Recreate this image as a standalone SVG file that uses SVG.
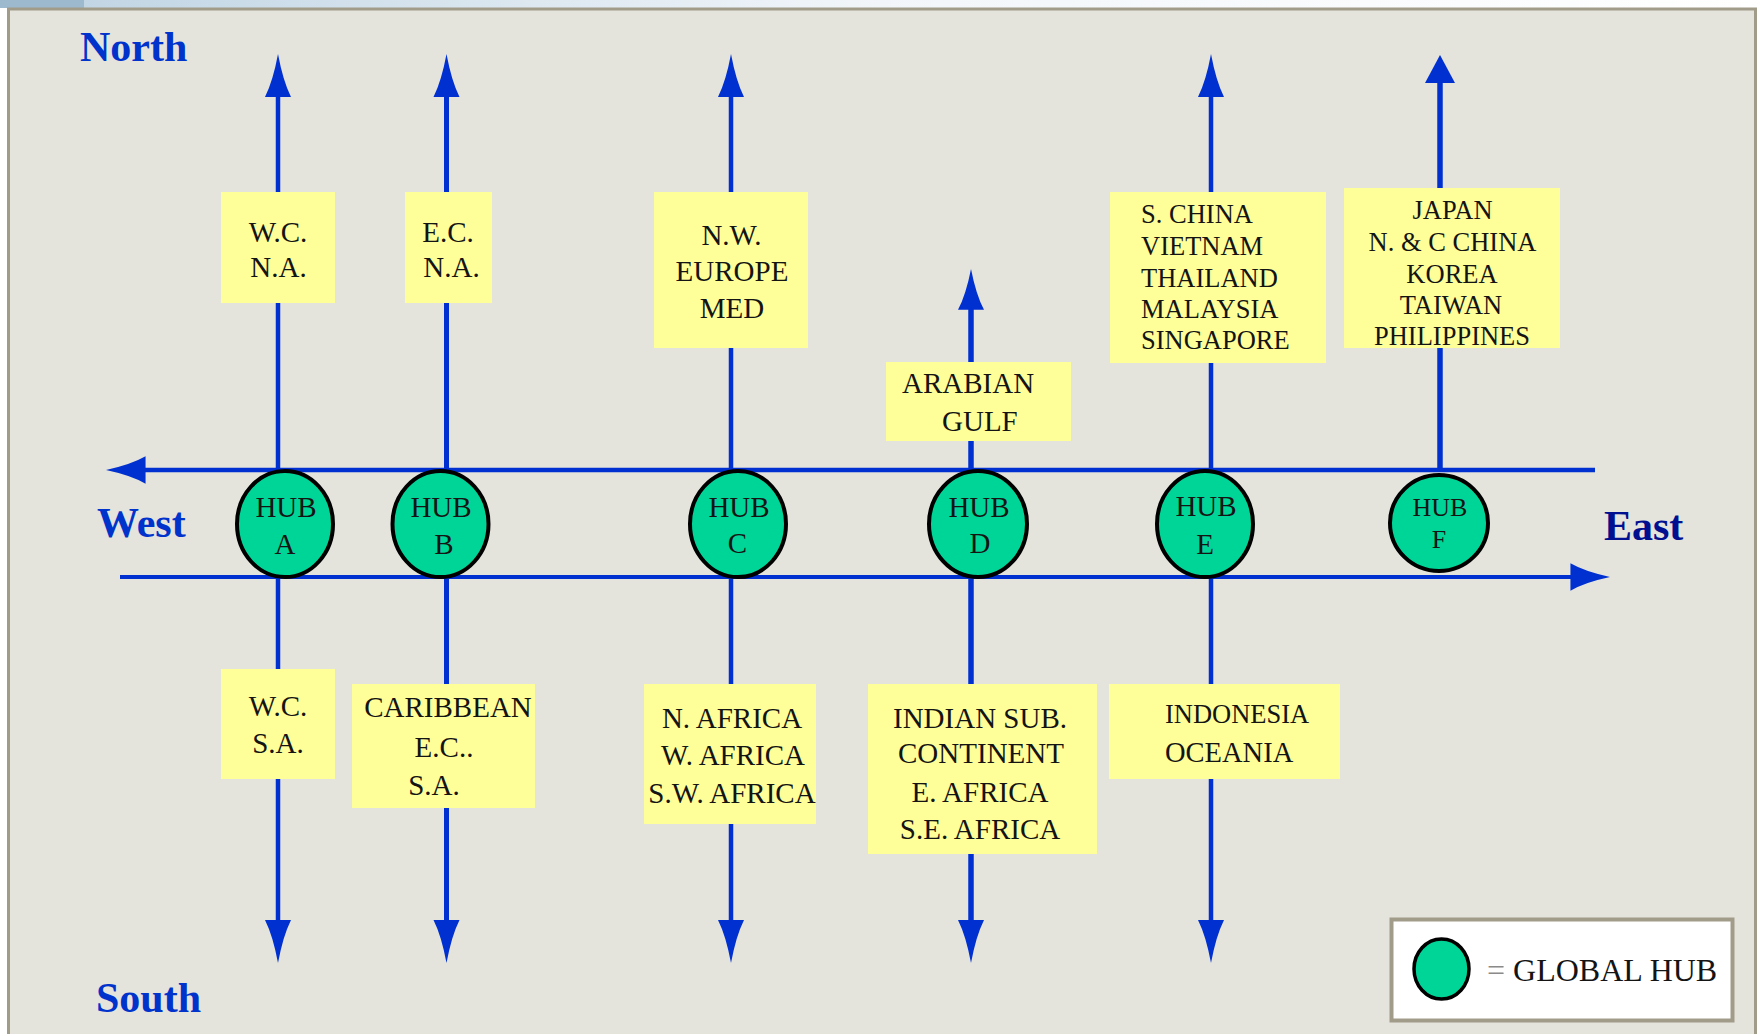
<svg xmlns="http://www.w3.org/2000/svg" xmlns:xlink="http://www.w3.org/1999/xlink" width="1758" height="1034" viewBox="0 0 1758 1034">
<style>
.ln{stroke:#0030D0;stroke-width:4.5;fill:none}
.lnb{stroke:#0030D0;stroke-width:5.5;fill:none}
.ah{fill:#0030D0}
.box{fill:#FFFF99}
.hub{fill:#00D598;stroke:#000;stroke-width:4}
.t{font-family:"Liberation Serif","Times New Roman",serif;fill:#141414}
.t29{font-size:29px}
.t26{font-size:26.5px}
.c{text-anchor:middle}
.dir{font-family:"Liberation Serif","Times New Roman",serif;font-weight:bold;font-size:42px;fill:#0033CC}
</style>
<defs>
<linearGradient id="topg" x1="0" y1="0" x2="1" y2="0">
<stop offset="0" stop-color="#BCD2E2"/>
<stop offset="0.5" stop-color="#F2F6FA"/>
<stop offset="1" stop-color="#FFFFFF"/>
</linearGradient>
<path id="ah" d="M0,0 Q5,27 13,43 L-13,43 Q-5,27 0,0 Z"/>
</defs>
<rect x="0" y="0" width="1758" height="1034" fill="#FFFFFF"/>
<rect x="0" y="0" width="1758" height="8" fill="url(#topg)"/>
<rect x="0" y="0" width="84" height="8" fill="#9DB9CE"/>
<rect x="8.5" y="9" width="1747" height="1040" fill="#E4E3DC" stroke="#A19C8A" stroke-width="3"/>

<g id="connectors">
<line class="ln" x1="145" y1="470" x2="1595" y2="470"/>
<line class="ln" x1="120" y1="577" x2="1572" y2="577" style="stroke-width:4"/>
<use href="#ah" class="ah" transform="translate(106,470) rotate(-90) scale(1.05,0.92)"/>
<use href="#ah" class="ah" transform="translate(1610,577) rotate(90) scale(1.05,0.92)"/>
<line class="ln" x1="278" y1="92" x2="278" y2="924"/>
<use href="#ah" class="ah" transform="translate(278,54)"/>
<use href="#ah" class="ah" transform="translate(278,963) rotate(180)"/>
<line class="ln" x1="446.5" y1="92" x2="446.5" y2="924" style="stroke-width:5"/>
<use href="#ah" class="ah" transform="translate(446.5,54)"/>
<use href="#ah" class="ah" transform="translate(446.5,963) rotate(180)"/>
<line class="ln" x1="731" y1="92" x2="731" y2="924"/>
<use href="#ah" class="ah" transform="translate(731,54)"/>
<use href="#ah" class="ah" transform="translate(731,963) rotate(180)"/>
<line class="lnb" x1="971" y1="305" x2="971" y2="924"/>
<use href="#ah" class="ah" transform="translate(971,269) scale(1,0.95)"/>
<use href="#ah" class="ah" transform="translate(971,963) rotate(180)"/>
<line class="ln" x1="1211" y1="92" x2="1211" y2="924"/>
<use href="#ah" class="ah" transform="translate(1211,54)"/>
<use href="#ah" class="ah" transform="translate(1211,963) rotate(180)"/>
<line class="lnb" x1="1440" y1="80" x2="1440" y2="470"/>
<path class="ah" d="M1440,55 L1455,83 L1425,83 Z"/>
</g>

<g id="box-wcna">
<rect class="box" x="221" y="192" width="114" height="111"/>
<text class="t t29 c" x="278" y="242">W.C.</text>
<text class="t t29 c" x="278.5" y="277">N.A.</text>
</g>
<g id="box-ecna">
<rect class="box" x="405" y="192" width="87" height="111"/>
<text class="t t29 c" x="448" y="242">E.C.</text>
<text class="t t29 c" x="451.5" y="277">N.A.</text>
</g>
<g id="box-nweurope">
<rect class="box" x="654" y="192" width="154" height="156"/>
<text class="t t29 c" x="731.5" y="245">N.W.</text>
<text class="t t29 c" x="732" y="281">EUROPE</text>
<text class="t t29 c" x="732" y="318">MED</text>
</g>
<g id="box-arabian">
<rect class="box" x="886" y="362" width="185" height="79"/>
<text class="t t29" x="902" y="393">ARABIAN</text>
<text class="t t29" x="942" y="431">GULF</text>
</g>
<g id="box-schina">
<rect class="box" x="1110" y="192" width="216" height="171"/>
<text class="t t26" x="1141" y="223">S. CHINA</text>
<text class="t t26" x="1141" y="255">VIETNAM</text>
<text class="t t26" x="1141" y="287">THAILAND</text>
<text class="t t26" x="1141" y="318">MALAYSIA</text>
<text class="t t26" x="1141" y="349">SINGAPORE</text>
</g>
<g id="box-japan">
<rect class="box" x="1344" y="188" width="216" height="160"/>
<text class="t t26 c" x="1452.5" y="219">JAPAN</text>
<text class="t t26 c" x="1452.5" y="251">N. &amp; C CHINA</text>
<text class="t t26 c" x="1452" y="283">KOREA</text>
<text class="t t26 c" x="1451" y="314">TAIWAN</text>
<text class="t t26 c" x="1452" y="345">PHILIPPINES</text>
</g>

<g id="box-wcsa">
<rect class="box" x="221" y="669" width="114" height="110"/>
<text class="t t29 c" x="278" y="715.5">W.C.</text>
<text class="t t29 c" x="278" y="753">S.A.</text>
</g>
<g id="box-caribbean">
<rect class="box" x="352" y="684" width="183" height="124"/>
<text class="t t29 c" x="448" y="717">CARIBBEAN</text>
<text class="t t29 c" x="444" y="757">E.C..</text>
<text class="t t29 c" x="434" y="795">S.A.</text>
</g>
<g id="box-africa">
<rect class="box" x="644" y="684" width="172" height="140"/>
<text class="t t29 c" x="732" y="728">N. AFRICA</text>
<text class="t t29 c" x="733" y="765">W. AFRICA</text>
<text class="t t29 c" x="732" y="803">S.W. AFRICA</text>
</g>
<g id="box-indian">
<rect class="box" x="868" y="684" width="229" height="170"/>
<text class="t t29 c" x="980" y="728">INDIAN SUB.</text>
<text class="t t29 c" x="981" y="763">CONTINENT</text>
<text class="t t29 c" x="980" y="802">E. AFRICA</text>
<text class="t t29 c" x="980" y="839">S.E. AFRICA</text>
</g>
<g id="box-indonesia">
<rect class="box" x="1109" y="684" width="231" height="95"/>
<text class="t t26" x="1165" y="723">INDONESIA</text>
<text class="t" x="1165" y="762" style="font-size:28.5px">OCEANIA</text>
</g>

<g id="hub-a">
<ellipse class="hub" cx="285" cy="524" rx="48" ry="53"/>
<text class="t t29 c" x="286" y="517">HUB</text>
<text class="t t29 c" x="285" y="554">A</text>
</g>
<g id="hub-b">
<ellipse class="hub" cx="440.5" cy="524" rx="48" ry="53"/>
<text class="t t29 c" x="441" y="517">HUB</text>
<text class="t t29 c" x="444" y="554">B</text>
</g>
<g id="hub-c">
<ellipse class="hub" cx="738" cy="524" rx="48" ry="53"/>
<text class="t t29 c" x="739" y="517">HUB</text>
<text class="t t29 c" x="737.5" y="553">C</text>
</g>
<g id="hub-d">
<ellipse class="hub" cx="978" cy="524" rx="49" ry="53"/>
<text class="t t29 c" x="979" y="517">HUB</text>
<text class="t t29 c" x="980" y="553">D</text>
</g>
<g id="hub-e">
<ellipse class="hub" cx="1205" cy="524" rx="48" ry="53"/>
<text class="t t29 c" x="1206" y="516">HUB</text>
<text class="t t29 c" x="1205" y="554">E</text>
</g>
<g id="hub-f">
<ellipse class="hub" cx="1439" cy="523" rx="49" ry="48"/>
<text class="t c" x="1440" y="516" style="font-size:26px">HUB</text>
<text class="t c" x="1439" y="548" style="font-size:26px">F</text>
</g>

<g id="labels">
<text class="dir" x="80" y="61">North</text>
<text class="dir" x="97" y="537">West</text>
<text class="dir" x="96" y="1012">South</text>
<text class="dir" x="1604" y="540" style="fill:#001090">East</text>
</g>

<g id="legend">
<rect x="1391.5" y="919.5" width="341" height="101" fill="#FFFFFF" stroke="#A19C8A" stroke-width="4"/>
<ellipse class="hub" cx="1441.5" cy="969" rx="27.5" ry="30" style="stroke-width:3.5"/>
<text class="t" x="1487" y="981" style="font-size:32px"><tspan fill="#8A8A8A">=</tspan> GLOBAL HUB</text>
</g>
</svg>
